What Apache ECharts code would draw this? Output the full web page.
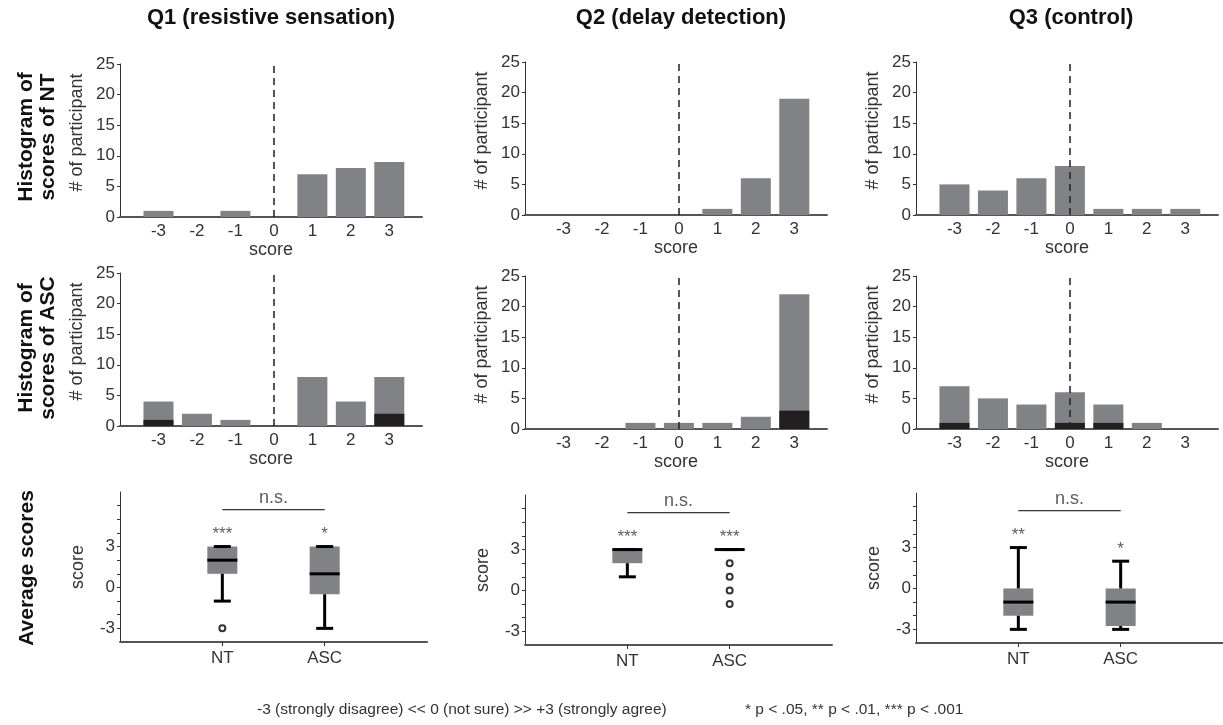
<!DOCTYPE html>
<html>
<head>
<meta charset="utf-8">
<script src="https://cdn.jsdelivr.net/npm/echarts@6/dist/echarts.min.js"></script>
<style>
  html, body { margin: 0; padding: 0; background: #fff; }
  #chart { width: 1223px; height: 725px; }
</style>
</head>
<body>
<div id="chart"></div>
<script>
// ---- data ----
const questions = ['Q1 (resistive sensation)', 'Q2 (delay detection)', 'Q3 (control)'];
const rowLabels = ['Histogram of\nscores of NT', 'Histogram of\nscores of ASC', 'Average scores'];
const scores = [-3, -2, -1, 0, 1, 2, 3];
const ntCounts = [[1, 0, 1, 0, 7, 8, 9], [0, 0, 0, 0, 1, 6, 19], [5, 4, 6, 8, 1, 1, 1]];
const ascCounts = [[4, 2, 1, 0, 8, 4, 8], [0, 0, 1, 1, 1, 2, 22], [7, 5, 4, 6, 4, 1, 0]];
const ascDark = [[1, 0, 0, 0, 0, 0, 2], [0, 0, 0, 0, 0, 0, 3], [1, 0, 0, 1, 1, 0, 0]];
const groups = ['NT', 'ASC'];
// [low whisker, q1, median, q3, high whisker]
const boxNT = [[-1, 1, 2, 3, 3], [1, 2, 3, 3, 3], [-3, -2, -1, 0, 3]];
const boxASC = [[-3, -0.5, 1, 3, 3], [3, 3, 3, 3, 3], [-3, -2.75, -1, 0, 2]];
const outliersNT = [[-3], [], []];
const outliersASC = [[], [2, 1, 0, -1], []];
const starsNT = ['***', '***', '**'];
const starsASC = ['*', '***', '*'];
const nsLevel = 5.7;
const scoreTicks = [-3, 0, 3];
const scoreMinorTicks = [-3, -2, -1, 0, 1, 2, 3, 4, 5, 6];
const footLeft = '-3 (strongly disagree) << 0 (not sure) >> +3 (strongly agree)';
const footRight = '* p < .05, ** p < .01, *** p < .001';

// ---- layout ----
const F = 'Liberation Sans';
const GREY = '#808285', DARK = '#231f20', TXT = '#333';
const colLeft = [120, 525, 916];
const histTop = [[64, 62, 62], [273, 276, 276]];
const boxTop = [492, 495, 493];

let chart = echarts.init(document.getElementById('chart'));

let grids = [], xAxes = [], yAxes = [], series = [];

function txt(size) {
    return { fontSize: size, color: TXT, fontFamily: F };
}

function zeroLine() {
    return {
        symbol: 'none', silent: true, label: { show: false },
        lineStyle: { type: [7, 5], color: DARK, width: 1.5 },
        data: [{ xAxis: 0 }]
    };
}

function histPanel(top, left) {
    grids.push({ left: left, top: top, width: 302, height: 153, outerBoundsMode: 'none' });
    let g = grids.length - 1;
    xAxes.push({
        type: 'value', gridIndex: g, min: -4, max: 3.85, splitLine: { show: false },
        axisLine: { show: true, onZero: false, lineStyle: { color: '#555', width: 2 } },
        axisTick: { show: false },
        axisLabel: Object.assign({ customValues: scores, margin: 6 }, txt(17)),
        name: 'score', nameLocation: 'middle', nameGap: 22, nameTextStyle: txt(18)
    });
    yAxes.push({
        type: 'value', gridIndex: g, min: 0, max: 25, interval: 5, splitLine: { show: false },
        axisLine: { show: true, onZero: false, lineStyle: { color: '#333', width: 1 } },
        axisTick: { show: true, length: 3, lineStyle: { color: '#333' } },
        axisLabel: Object.assign({ margin: 5 }, txt(17)),
        name: '# of participant', nameLocation: 'middle', nameGap: 34, nameRotate: 90,
        nameTextStyle: Object.assign({ padding: [0, 0, 0, 16] }, txt(18))
    });
    return g;
}

function boxPanel(top, left) {
    grids.push({ left: left, top: top, width: 307, height: 150, outerBoundsMode: 'none' });
    let g = grids.length - 1;
    xAxes.push({
        type: 'value', gridIndex: g, min: 0, max: 3, splitLine: { show: false },
        axisLine: { show: true, onZero: false, lineStyle: { color: '#555', width: 2 } },
        axisTick: { show: true, customValues: [1, 2], length: 4, lineStyle: { color: '#333' } },
        axisLabel: Object.assign({ customValues: [1, 2], formatter: v => groups[v - 1], margin: 8 }, txt(17))
    });
    yAxes.push({
        type: 'value', gridIndex: g, min: -4, max: 7, interval: 1, splitLine: { show: false },
        axisLine: { show: true, onZero: false, lineStyle: { color: '#333', width: 1 } },
        axisTick: { show: true, customValues: scoreMinorTicks, length: 3, lineStyle: { color: '#333' } },
        axisLabel: Object.assign({ customValues: scoreTicks, margin: 5 }, txt(17)),
        name: 'score', nameLocation: 'middle', nameGap: 33, nameRotate: 90, nameTextStyle: txt(18)
    });
    return g;
}

function renderBox(params, api) {
    let x = api.value(0);
    let p = [1, 2, 3, 4, 5].map(i => api.coord([x, api.value(i)]));
    let cx = p[0][0];
    let bw = 30, cw = 17;
    let ls = { stroke: '#000', lineWidth: 3 };
    return {
        type: 'group',
        children: [
            { type: 'rect', shape: { x: cx - bw / 2, y: p[3][1], width: bw, height: p[1][1] - p[3][1] }, style: { fill: GREY } },
            { type: 'line', shape: { x1: cx, y1: p[3][1], x2: cx, y2: p[4][1] }, style: ls },
            { type: 'line', shape: { x1: cx, y1: p[1][1], x2: cx, y2: p[0][1] }, style: ls },
            { type: 'line', shape: { x1: cx - cw / 2, y1: p[4][1], x2: cx + cw / 2, y2: p[4][1] }, style: ls },
            { type: 'line', shape: { x1: cx - cw / 2, y1: p[0][1], x2: cx + cw / 2, y2: p[0][1] }, style: ls },
            { type: 'line', shape: { x1: cx - bw / 2, y1: p[2][1], x2: cx + bw / 2, y2: p[2][1] }, style: ls }
        ]
    };
}

for (let c = 0; c < 3; c++) {
    // NT histogram
    let g1 = histPanel(histTop[0][c], colLeft[c]);
    series.push({
        type: 'bar', xAxisIndex: g1, yAxisIndex: g1, barWidth: 30,
        itemStyle: { color: GREY }, markLine: zeroLine(),
        data: scores.map((s, i) => [s, ntCounts[c][i]])
    });

    // ASC histogram (dark part overlaid at the bottom)
    let g2 = histPanel(histTop[1][c], colLeft[c]);
    series.push({
        type: 'bar', xAxisIndex: g2, yAxisIndex: g2, barWidth: 30, barGap: '-100%',
        itemStyle: { color: GREY }, markLine: zeroLine(),
        data: scores.map((s, i) => [s, ascCounts[c][i]])
    });
    series.push({
        type: 'bar', xAxisIndex: g2, yAxisIndex: g2, barWidth: 30, barGap: '-100%',
        itemStyle: { color: DARK },
        data: scores.map((s, i) => [s, ascDark[c][i]])
    });

    // box plots
    let g3 = boxPanel(boxTop[c], colLeft[c]);
    series.push({
        type: 'custom', xAxisIndex: g3, yAxisIndex: g3, renderItem: renderBox,
        data: [[1].concat(boxNT[c]), [2].concat(boxASC[c])]
    });
    series.push({
        type: 'scatter', xAxisIndex: g3, yAxisIndex: g3, symbol: 'emptyCircle', symbolSize: 6,
        itemStyle: { color: '#000', borderColor: '#000', borderWidth: 2.3 },
        data: outliersNT[c].map(v => [1, v]).concat(outliersASC[c].map(v => [2, v]))
    });
    series.push({
        type: 'scatter', xAxisIndex: g3, yAxisIndex: g3, symbolSize: 1,
        itemStyle: { color: 'transparent' },
        label: Object.assign({ show: true, position: 'inside', formatter: p => p.value[2] }, txt(17)),
        data: [[1, boxNT[c][4] + 0.9, starsNT[c]], [2, boxASC[c][4] + 0.9, starsASC[c]]]
    });
    series.push({
        type: 'line', xAxisIndex: g3, yAxisIndex: g3, symbol: 'none',
        lineStyle: { color: '#000', width: 1 },
        data: [[1, nsLevel], [2, nsLevel]]
    });
    series.push({
        type: 'scatter', xAxisIndex: g3, yAxisIndex: g3, symbolSize: 1,
        itemStyle: { color: 'transparent' },
        label: Object.assign({ show: true, position: 'top', distance: 2, formatter: 'n.s.' }, txt(18)),
        data: [[1.5, nsLevel]]
    });
}

let graphics = [];
const titleX = [271, 681, 1071];
questions.forEach((q, i) => {
    graphics.push({
        type: 'text', x: titleX[i], y: 18,
        style: { text: q, fontSize: 22, fontWeight: 'bold', fontFamily: F, fill: '#111', textAlign: 'center', textVerticalAlign: 'middle' }
    });
});
const rowLabelPos = [[37, 137], [37, 348], [27, 568]];
rowLabels.forEach((r, i) => {
    graphics.push({
        type: 'text', x: rowLabelPos[i][0], y: rowLabelPos[i][1], rotation: Math.PI / 2,
        style: { text: r, fontSize: 21, fontWeight: 'bold', fontFamily: F, fill: '#111', lineHeight: 22, textAlign: 'center', textVerticalAlign: 'middle' }
    });
});
graphics.push({ type: 'text', x: 257, y: 710, style: { text: footLeft, fontSize: 15.5, fontFamily: F, fill: TXT, textVerticalAlign: 'middle' } });
graphics.push({ type: 'text', x: 745, y: 710, style: { text: footRight, fontSize: 15.5, fontFamily: F, fill: TXT, textVerticalAlign: 'middle' } });

chart.setOption({
    animation: false,
    grid: grids,
    xAxis: xAxes,
    yAxis: yAxes,
    series: series,
    graphic: graphics
});
</script>
</body>
</html>
